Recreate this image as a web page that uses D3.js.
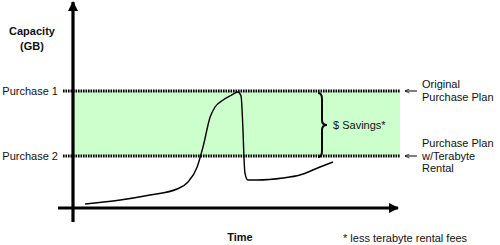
<!DOCTYPE html>
<html>
<head>
<meta charset="utf-8">
<script src="https://cdn.jsdelivr.net/npm/d3@7"></script>
<style>
  body { margin: 0; background: #fff; }
  text { font-family: "Liberation Sans", Arial, Helvetica, sans-serif; font-size: 11px; fill: #111; }
</style>
</head>
<body>
<div id="chart"></div>
<script>
// capacity usage over time (arbitrary units)
var usageTime  = [3.7, 13.5, 23.7, 32, 35.4, 38.2, 40, 42.2, 43.7, 46.2, 48.6, 50.8, 51.7, 52.3, 52.6, 52.9, 53.8, 56.6, 64.6, 69.8, 76, 80];
var usageValue = [2, 3.75, 6.5, 9.5, 13, 20.5, 30.5, 45.5, 50.5, 54, 56.25, 58, 56, 39, 25.5, 17.5, 14, 14, 15, 16.5, 20.5, 23];

var levelNames  = ["Purchase 1", "Purchase 2"];
var levelValues = [58.5, 26];
var planLabels  = [["Original", "Purchase Plan"], ["Purchase Plan", "w/Terabyte", "Rental"]];

var width = 500, height = 245;

var svg = d3.select('#chart')
    .append('svg')
    .attr('width', width)
    .attr('height', height);

var x = d3.scaleLinear().domain([0, 100]).range([73, 398]);
var y = d3.scaleLinear().domain([0, 100]).range([208, 8]);

// arrow heads
var defs = svg.append('defs');
defs.append('marker')
    .attr('id', 'head')
    .attr('viewBox', '0 0 10 10')
    .attr('refX', 9).attr('refY', 5)
    .attr('markerWidth', 3.2).attr('markerHeight', 3.2)
    .attr('markerUnits', 'strokeWidth')
    .attr('orient', 'auto')
    .append('path').attr('d', 'M0,0L10,5L0,10z').attr('fill', '#000');
defs.append('marker')
    .attr('id', 'small')
    .attr('viewBox', '0 0 10 10')
    .attr('refX', 9).attr('refY', 5)
    .attr('markerWidth', 5).attr('markerHeight', 5)
    .attr('markerUnits', 'strokeWidth')
    .attr('orient', 'auto')
    .append('path').attr('d', 'M0,1L10,5L0,9').attr('fill', 'none').attr('stroke', '#000').attr('stroke-width', 1.4);

// savings band
svg.append('rect')
    .attr('x', x(0))
    .attr('y', y(levelValues[0]))
    .attr('width', x(100) + 2 - x(0))
    .attr('height', y(levelValues[1]) - y(levelValues[0]))
    .attr('fill', '#ccffcc');

// dotted purchase levels
svg.selectAll('.level')
    .data(levelValues)
    .enter()
    .append('line')
    .attr('class', 'level')
    .attr('x1', x(0) - 10)
    .attr('x2', x(100) + 2)
    .attr('y1', d => y(d))
    .attr('y2', d => y(d))
    .attr('stroke', '#000')
    .attr('stroke-width', 3)
    .attr('stroke-dasharray', '1.6,0.9');

svg.selectAll('.levelName')
    .data(levelNames)
    .enter()
    .append('text')
    .attr('x', x(0) - 15)
    .attr('y', (d, i) => y(levelValues[i]) + 4)
    .attr('text-anchor', 'end')
    .text(d => d);

// axes
svg.append('line')
    .attr('x1', x(0)).attr('x2', x(0))
    .attr('y1', y(0) + 14).attr('y2', y(100) - 6)
    .attr('stroke', '#000').attr('stroke-width', 3.2)
    .attr('marker-end', 'url(#head)');
svg.append('line')
    .attr('x1', x(0) - 15).attr('x2', x(100))
    .attr('y1', y(0)).attr('y2', y(0))
    .attr('stroke', '#000').attr('stroke-width', 3.2)
    .attr('marker-end', 'url(#head)');

// usage curve
var usage = usageTime.map((t, i) => [t, usageValue[i]]);
svg.append('path')
    .datum(usage)
    .attr('d', d3.line().x(d => x(d[0])).y(d => y(d[1])).curve(d3.curveMonotoneX))
    .attr('fill', 'none')
    .attr('stroke', '#000')
    .attr('stroke-width', 1.4);

// brace for savings
var braceTop = y(levelValues[0]) + 2, braceBot = y(levelValues[1]) + 1;
var braceMid = (braceTop + braceBot) / 2, bx = 318;
svg.append('path')
    .attr('d', 'M' + bx + ',' + braceTop +
        ' Q' + (bx + 4) + ',' + braceTop + ' ' + (bx + 4) + ',' + (braceTop + 6) +
        ' L' + (bx + 4) + ',' + (braceMid - 5) +
        ' Q' + (bx + 4) + ',' + braceMid + ' ' + (bx + 9) + ',' + braceMid +
        ' Q' + (bx + 4) + ',' + braceMid + ' ' + (bx + 4) + ',' + (braceMid + 5) +
        ' L' + (bx + 4) + ',' + (braceBot - 6) +
        ' Q' + (bx + 4) + ',' + braceBot + ' ' + bx + ',' + braceBot)
    .attr('fill', 'none')
    .attr('stroke', '#000')
    .attr('stroke-width', 2);
svg.append('text')
    .attr('x', bx + 15)
    .attr('y', braceMid + 4)
    .text('$ Savings*');

// plan labels with arrows
levelValues.forEach(function(v, i) {
    svg.append('line')
        .attr('x1', x(100) + 19).attr('x2', x(100) + 7)
        .attr('y1', y(v)).attr('y2', y(v))
        .attr('stroke', '#000').attr('stroke-width', 1)
        .attr('marker-end', 'url(#small)');
    var startY = i === 0 ? y(v) - 3 : y(v) - 9;
    svg.append('text')
        .attr('x', x(100) + 24)
        .attr('y', startY)
        .selectAll('tspan')
        .data(planLabels[i])
        .enter()
        .append('tspan')
        .attr('x', x(100) + 24)
        .attr('dy', (d, j) => j === 0 ? 0 : 12.5)
        .text(d => d);
});

// axis titles
svg.append('text')
    .attr('x', 32).attr('y', 35)
    .attr('text-anchor', 'middle')
    .style('font-weight', 'bold')
    .text('Capacity');
svg.append('text')
    .attr('x', 32).attr('y', 50)
    .attr('text-anchor', 'middle')
    .style('font-weight', 'bold')
    .text('(GB)');
svg.append('text')
    .attr('x', 240).attr('y', 241)
    .attr('text-anchor', 'middle')
    .style('font-weight', 'bold')
    .text('Time');
svg.append('text')
    .attr('x', 343).attr('y', 242)
    .text('* less terabyte rental fees');
</script>
</body>
</html>
